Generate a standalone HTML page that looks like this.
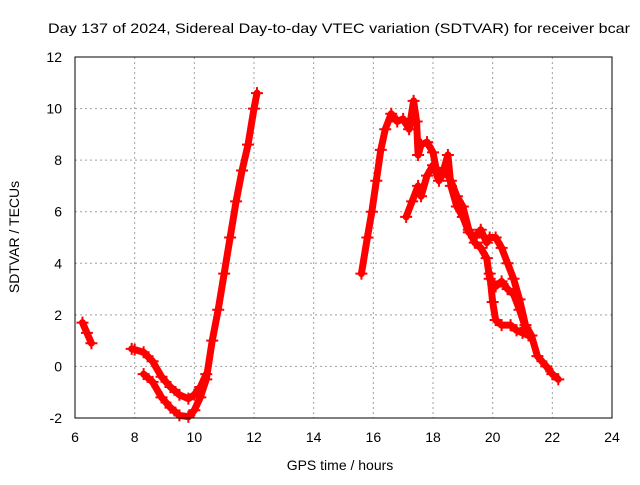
<!DOCTYPE html>
<html><head><meta charset="utf-8"><style>
body{margin:0;background:#fff;}
svg text{font-family:"Liberation Sans",sans-serif;font-size:14px;fill:#000;}
</style></head><body>
<svg id="chart" width="640" height="480">
<text x="48" y="33" textLength="582" lengthAdjust="spacingAndGlyphs">Day 137 of 2024, Sidereal Day-to-day VTEC variation (SDTVAR) for receiver bcar</text>
<text x="340" y="470" text-anchor="middle">GPS time / hours</text>
<text transform="translate(19,237) rotate(-90)" text-anchor="middle">SDTVAR / TECUs</text>
<g id="grid"></g><g id="series"></g>
<rect x="75" y="57" width="537" height="361" fill="none" stroke="#000" stroke-width="1"/>
</svg>
<script>
const xTicks=[6,8,10,12,14,16,18,20,22,24];
const yTicks=[-2,0,2,4,6,8,10,12];
const seg1X=[6.25,6.4,6.55];
const seg1Y=[1.7,1.3,0.9];
const seg2X=[7.9,8.0,8.3,8.6,8.9,9.2,9.5,9.8,10.0,10.2,10.4];
const seg2Y=[0.68,0.65,0.55,0.2,-0.4,-0.8,-1.1,-1.25,-1.1,-0.8,-0.3];
const seg3X=[8.3,8.6,8.9,9.2,9.5,9.8,10.0,10.2,10.4,10.6,10.8,11.0,11.2,11.4,11.6,11.8,12.0,12.1];
const seg3Y=[-0.3,-0.6,-1.2,-1.6,-1.9,-1.95,-1.7,-1.2,-0.5,1.0,2.2,3.6,5.0,6.4,7.6,8.6,10.0,10.6];
const seg4X=[15.6,15.8,15.95,16.1,16.25,16.4,16.6,16.8,17.0,17.2,17.35,17.45,17.5,17.6,17.8,18.0,18.1,18.3,18.5,18.6,18.8,19.0,19.2,19.4,19.6,19.8,19.9,20.1,20.3,20.5,20.7,20.9,21.1,21.3,21.5,21.8,22.0,22.2];
const seg4Y=[3.6,5.0,6.0,7.2,8.4,9.2,9.8,9.5,9.6,9.2,10.3,9.5,8.2,8.6,8.7,8.3,7.7,7.4,8.2,7.0,6.2,5.8,5.2,5.0,5.3,4.8,5.0,5.0,4.6,4.0,3.4,2.6,1.6,1.2,0.4,0.0,-0.3,-0.5];
const seg5X=[17.1,17.3,17.5,17.6,17.8,18.0,18.2,18.4,18.6,18.8,19.0,19.2,19.4,19.6,19.8,19.9,20.1,20.3,20.5,20.7,20.9,21.1];
const seg5Y=[5.8,6.4,7.0,6.6,7.4,7.8,7.2,7.6,7.2,6.6,6.2,5.3,4.8,4.6,4.2,3.4,3.1,3.3,3.0,2.8,2.2,1.5];
const seg6X=[19.9,20.0,20.1,20.3,20.6,20.8,21.0,21.2];
const seg6Y=[3.6,2.5,1.8,1.6,1.6,1.4,1.3,1.2];
const NS='http://www.w3.org/2000/svg';
const X=v=>75+(v-6)*537/18, Y=v=>418-(v+2)*361/14;
const grid=document.getElementById('grid'), ser=document.getElementById('series');
function mk(t,a,p){const e=document.createElementNS(NS,t);for(const k in a)e.setAttribute(k,a[k]);p.appendChild(e);return e;}
xTicks.forEach(t=>{
 const l=mk('line',{x1:X(t),x2:X(t),y1:57,y2:418,stroke:'#a0a0a0','stroke-dasharray':'2,3'},grid);
 
 
 const tx=mk('text',{x:X(t),y:442,'text-anchor':'middle'},grid);tx.textContent=t;
 
 
});
yTicks.forEach(t=>{
 const l=mk('line',{x1:75,x2:612,y1:Y(t),y2:Y(t),stroke:'#a0a0a0','stroke-dasharray':'2,3'},grid);
 
 
 const tx=mk('text',{x:62,y:Y(t)+5,'text-anchor':'end'},grid);tx.textContent=t;
 
 
});
[[seg1X,seg1Y],[seg2X,seg2Y],[seg3X,seg3Y],[seg4X,seg4Y],[seg5X,seg5Y],[seg6X,seg6Y]].forEach(([xs,ys])=>{
 const pts=xs.map((x,i)=>X(x)+','+Y(ys[i])).join(' ');
 const pl=mk('polyline',{points:pts,fill:'none',stroke:'#f00','stroke-width':7,'stroke-linejoin':'round','stroke-linecap':'round'},ser);
 
 
 xs.forEach((x,i)=>{
  const p=mk('path',{d:`M${X(x)-6},${Y(ys[i])}h12M${X(x)},${Y(ys[i])-6}v12`,stroke:'#f00','stroke-width':2},ser);
  
  
 });
});
</script>
</body></html>
